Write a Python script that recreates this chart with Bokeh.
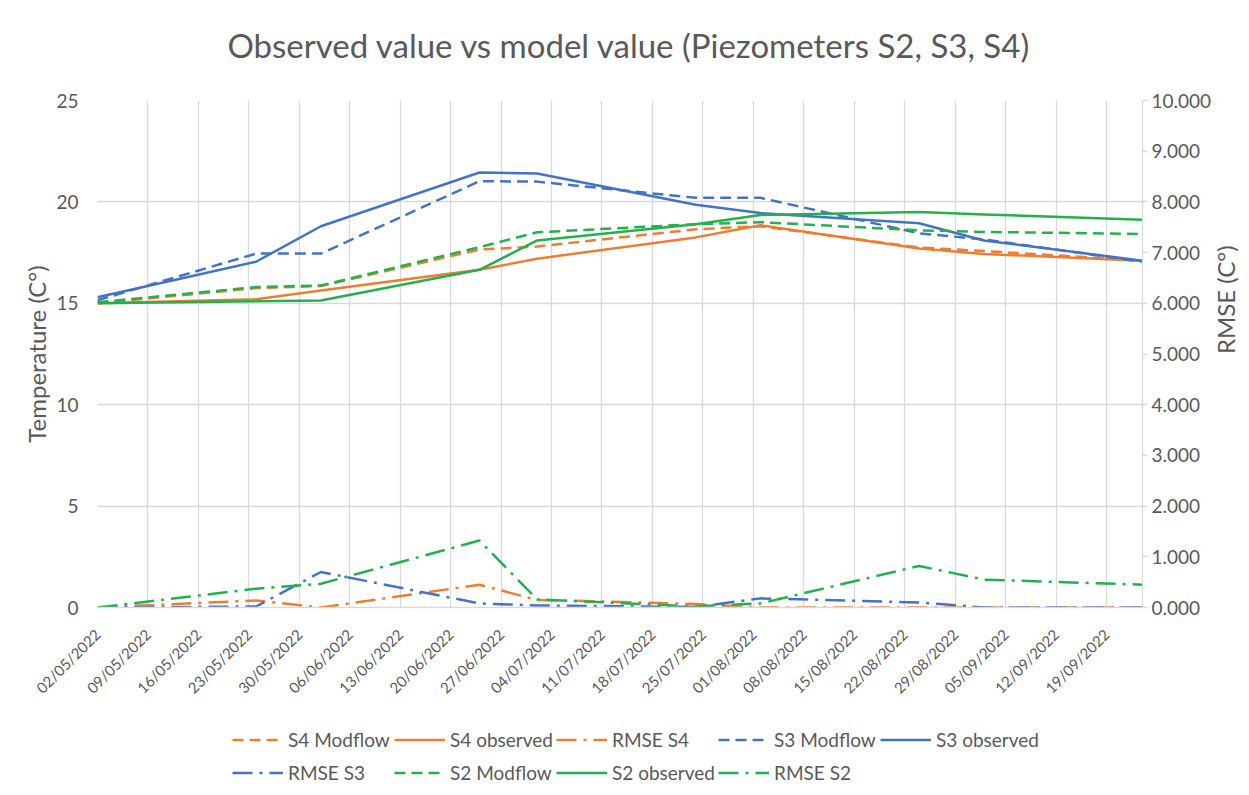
import math
import pandas as pd
from bokeh.plotting import figure
from bokeh.layouts import column
from bokeh.models import (Range1d, LinearAxis, FixedTicker, DatetimeTickFormatter,
                          NumeralTickFormatter, Legend, LegendItem, Label)
from bokeh.embed import file_html
from bokeh.resources import INLINE

# ---------------- data ----------------
dates = ["02/05/2022", "24/05/2022", "02/06/2022", "24/06/2022", "02/07/2022",
         "24/07/2022", "02/08/2022", "24/08/2022", "02/09/2022", "24/09/2022"]

s4_modflow = [15.0, 15.75, 15.85, 17.65, 17.8, 18.65, 18.8, 17.75, 17.58, 17.1]
s4_observed = [15.0, 15.2, 15.63, 16.65, 17.2, 18.25, 18.85, 17.7, 17.43, 17.1]
rmse_s4 = [0.0, 0.14, 0.0, 0.45, 0.15, 0.07, 0.0, 0.0, 0.0, 0.0]

s3_modflow = [15.15, 17.45, 17.45, 21.02, 21.0, 20.2, 20.2, 18.45, 18.15, 17.05]
s3_observed = [15.3, 17.05, 18.8, 21.45, 21.4, 19.86, 19.45, 18.95, 18.1, 17.1]
rmse_s3 = [0.0, 0.02, 0.70, 0.08, 0.04, 0.01, 0.18, 0.10, 0.0, 0.0]

s2_modflow = [15.05, 15.8, 15.88, 17.77, 18.5, 18.9, 19.0, 18.6, 18.52, 18.42]
s2_observed = [15.0, 15.1, 15.14, 16.65, 18.1, 18.9, 19.35, 19.5, 19.38, 19.12]
rmse_s2 = [0.0, 0.37, 0.47, 1.32, 0.16, 0.02, 0.08, 0.82, 0.55, 0.45]

tick_labels = ["02/05/2022", "09/05/2022", "16/05/2022", "23/05/2022", "30/05/2022",
               "06/06/2022", "13/06/2022", "20/06/2022", "27/06/2022", "04/07/2022",
               "11/07/2022", "18/07/2022", "25/07/2022", "01/08/2022", "08/08/2022",
               "15/08/2022", "22/08/2022", "29/08/2022", "05/09/2022", "12/09/2022",
               "19/09/2022"]
temp_ticks = [0, 5, 10, 15, 20, 25]
rmse_ticks = [0, 1, 2, 3, 4, 5, 6, 7, 8, 9, 10]

title_text = "Observed value vs model value (Piezometers S2, S3, S4)"
left_label = "Temperature (C°)"
right_label = "RMSE (C°)"

# ---------------- styling ----------------
FONT = "Lato"
TXT = "#595959"
GRID = "#d9d9d9"
ORANGE = "#ED7D31"
BLUE = "#4472C4"
GREEN = "#22B14C"
DASH = "11 6"
DASHDOT = "20 7 3 7"
LW = 2.5

x = pd.to_datetime(pd.Series(dates), format="%d/%m/%Y")
ticks_dt = pd.to_datetime(pd.Series(tick_labels), format="%d/%m/%Y")
tick_ms = [int(t.value // 10**6) for t in ticks_dt]

W = 1247
TH = 70  # title strip height

# ---------------- title strip ----------------
tf = figure(width=W, height=TH, output_backend="svg", toolbar_location=None,
            x_range=Range1d(0, 1), y_range=Range1d(0, 1),
            x_axis_location=None, y_axis_location=None, min_border=0)
tf.outline_line_color = None
tf.xgrid.visible = False
tf.ygrid.visible = False
tf.add_layout(Label(x=532, y=TH - 44, x_units="screen", y_units="screen",
                    text=title_text, text_font=FONT, text_font_size="33px",
                    text_color=TXT, text_align="center", text_baseline="middle"))

# ---------------- main chart ----------------
p = figure(frame_width=1045, frame_height=507, x_axis_type="datetime",
           output_backend="svg", toolbar_location=None,
           x_range=Range1d(x.iloc[0], x.iloc[-1]), y_range=Range1d(0, 25),
           min_border_left=97, min_border_right=W - 1142,
           min_border_top=100 - TH, min_border_bottom=95)
p.extra_y_ranges = {"rmse": Range1d(0, 10)}
p.outline_line_color = None
p.background_fill_color = "white"
p.border_fill_color = "white"

# x axis
xa = p.xaxis[0]
xa.ticker = FixedTicker(ticks=tick_ms)
fmt = "%d/%m/%Y"
xa.formatter = DatetimeTickFormatter(microseconds=fmt, milliseconds=fmt, seconds=fmt,
                                     minsec=fmt, minutes=fmt, hourmin=fmt, hours=fmt,
                                     days=fmt, months=fmt, years=fmt)
xa.major_label_orientation = math.pi / 4
xa.major_label_text_font = FONT
xa.major_label_text_font_size = "15px"
xa.major_label_text_color = TXT
xa.major_label_standoff = 18
xa.axis_line_color = GRID
xa.axis_line_width = 1.3
xa.major_tick_line_color = None
xa.minor_tick_line_color = None

# left axis
ya = p.yaxis[0]
ya.ticker = FixedTicker(ticks=temp_ticks)
ya.axis_label = left_label
ya.axis_label_text_font = FONT
ya.axis_label_text_font_size = "24px"
ya.axis_label_text_font_style = "normal"
ya.axis_label_text_color = TXT
ya.axis_label_standoff = 2
ya.major_label_text_font = FONT
ya.major_label_text_font_size = "19px"
ya.major_label_text_color = TXT
ya.major_label_standoff = 13
ya.axis_line_color = None
ya.major_tick_line_color = None
ya.minor_tick_line_color = None

# right axis
ra = LinearAxis(y_range_name="rmse", ticker=FixedTicker(ticks=rmse_ticks),
                formatter=NumeralTickFormatter(format="0.000"))
ra.axis_label = right_label
ra.axis_label_text_font = FONT
ra.axis_label_text_font_size = "24px"
ra.axis_label_text_font_style = "normal"
ra.axis_label_text_color = TXT
ra.axis_label_standoff = 11
if "axis_label_orientation" in ra.properties():
    ra.axis_label_orientation = math.pi / 2
ra.axis_label_text_align = "center"
if "axis_label_align" in ra.properties():
    ra.axis_label_align = "center"
ra.major_label_text_font = FONT
ra.major_label_text_font_size = "19px"
ra.major_label_text_color = TXT
ra.major_label_standoff = 4
ra.axis_line_color = GRID
ra.axis_line_width = 1.3
ra.major_tick_line_color = GRID
ra.major_tick_line_width = 1.3
ra.major_tick_out = 5
ra.major_tick_in = 0
ra.minor_tick_line_color = None
p.add_layout(ra, "right")

p.xgrid.grid_line_color = GRID
p.xgrid.grid_line_width = 1.3
p.ygrid.grid_line_color = GRID
p.ygrid.grid_line_width = 1.3

# ---------------- series ----------------
def ln(y, color, dash, rng=None):
    kw = dict(line_color=color, line_width=LW, line_dash=dash, line_join="round")
    if rng:
        kw["y_range_name"] = rng
    return p.line(x, y, **kw)

ln(s4_modflow, ORANGE, DASH)
ln(s4_observed, ORANGE, "solid")
ln(rmse_s4, ORANGE, DASHDOT, "rmse")
ln(s3_modflow, BLUE, DASH)
ln(s3_observed, BLUE, "solid")
ln(rmse_s3, BLUE, DASHDOT, "rmse")
ln(s2_modflow, GREEN, DASH)
ln(s2_observed, GREEN, "solid")
ln(rmse_s2, GREEN, DASHDOT, "rmse")

# ---------------- legend (separate strip below the chart) ----------------
LH = 90
lf = figure(width=W, height=LH, output_backend="svg", toolbar_location=None,
            x_range=Range1d(0, 1), y_range=Range1d(0, 1),
            x_axis_location=None, y_axis_location=None, min_border=0)
lf.outline_line_color = None
lf.xgrid.visible = False
lf.ygrid.visible = False

legend_rows = [
    [("S4 Modflow", ORANGE, DASH), ("S4 observed", ORANGE, "solid"),
     ("RMSE S4", ORANGE, DASHDOT), ("S3 Modflow", BLUE, DASH),
     ("S3 observed", BLUE, "solid")],
    [("RMSE S3", BLUE, DASHDOT), ("S2 Modflow", GREEN, DASH),
     ("S2 observed", GREEN, "solid"), ("RMSE S2", GREEN, DASHDOT)],
]
row_y = [40, 7]
for row, yy in zip(legend_rows, row_y):
    its = []
    for label, color, dash in row:
        # legend swatch proxy: one undefined point, draws nothing in the strip
        r = lf.line([0.5], [float("nan")], line_color=color, line_width=LW, line_dash=dash)
        its.append(LegendItem(label=label, renderers=[r]))
    lg = Legend(items=its, orientation="horizontal", location=(135, yy),
                glyph_width=51, glyph_height=33, label_standoff=5, label_width=106,
                label_height=33, spacing=0, padding=0, margin=0,
                border_line_color=None, background_fill_alpha=0,
                label_text_font=FONT, label_text_font_size="19px",
                label_text_color=TXT)
    lf.add_layout(lg)

open("out.html", "w").write(file_html(column(tf, p, lf, spacing=0), INLINE))
